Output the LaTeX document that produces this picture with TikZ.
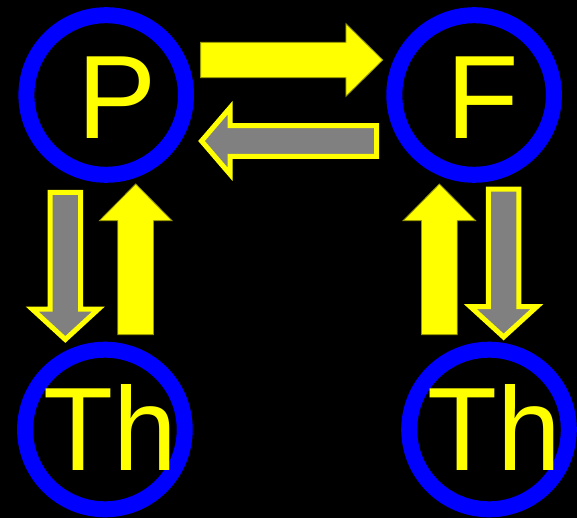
\documentclass[tikz,border=0pt]{standalone}
\usepackage{fontspec}
\setmainfont{Liberation Sans}
\definecolor{pblue}{RGB}{0,0,255}
\definecolor{pyellow}{RGB}{255,255,0}
\definecolor{pgray}{RGB}{128,128,128}
\definecolor{polive}{RGB}{150,150,0}
\tikzset{
  ring/.style={circle, draw=pblue, line width=16pt, minimum size=159.6pt, inner sep=0pt},
  lbl/.style={anchor=base, inner sep=0pt, text=pyellow, font=\fontsize{118.7}{120}\selectfont},
  fwdarrow/.style={fill=pyellow, draw=polive, line width=0.8pt, line join=miter},
  backarrow/.style={fill=pgray, draw=pyellow, line width=5pt, line join=miter, miter limit=10}
}
\begin{document}
\begin{tikzpicture}[x=1pt,y=-1pt]
\fill[black] (0,0) rectangle (577,518);
\useasboundingbox (0,0) rectangle (577,518);
% circles
\node[ring] (P) at (106.2,95) {};
\node[ring] (F) at (474.1,95) {};
\node[ring] (ThL) at (104.9,429.5) {};
\node[ring] (ThR) at (489,429.5) {};
% labels
\node[lbl] (tP) at (116.8,139) {P};
\node[lbl] (tF) at (483.2,139) {F};
\node[lbl] (tThL) at (110.4,470) {\scalebox{0.965}[1]{Th}};
\node[lbl] (tThR) at (494,470) {\scalebox{0.965}[1]{Th}};
% P -> F (yellow)
\draw[fwdarrow] (200.6,42.3) -- (345.9,42.3) -- (345.9,23.7) -- (382.7,60) -- (345.9,96.3) -- (345.9,77.7) -- (200.6,77.7) -- cycle;
% F -> P (gray)
\draw[backarrow] (376.5,125.7) -- (230,125.7) -- (230,107.8) -- (201.5,141) -- (230,174.2) -- (230,156.3) -- (376.5,156.3) -- cycle;
% P -> ThL (gray, down)
\draw[backarrow] (50,192.5) -- (80.6,192.5) -- (80.6,309) -- (98.5,309) -- (65.3,339.5) -- (32.1,309) -- (50,309) -- cycle;
% ThL -> P (yellow, up)
\draw[fwdarrow] (117.8,334.7) -- (153.5,334.7) -- (153.5,220.7) -- (172,220.7) -- (135.7,184) -- (99.4,220.7) -- (117.8,220.7) -- cycle;
% ThR -> F (yellow, up)
\draw[fwdarrow] (421.5,334.7) -- (457.2,334.7) -- (457.2,220.7) -- (475.7,220.7) -- (439.4,184) -- (403.1,220.7) -- (421.5,220.7) -- cycle;
% F -> ThR (gray, down)
\draw[backarrow] (488.3,189.2) -- (518.9,189.2) -- (518.9,306.7) -- (536.8,306.7) -- (503.6,337) -- (470.4,306.7) -- (488.3,306.7) -- cycle;
\end{tikzpicture}
\end{document}
